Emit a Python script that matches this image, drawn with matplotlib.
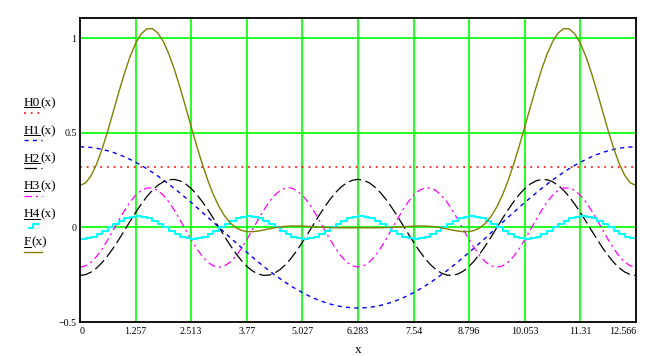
import numpy as np
import matplotlib
matplotlib.use("Agg")
from matplotlib import pyplot as plt
from matplotlib.lines import Line2D

# cosine terms: Hk(x) = amp * cos(freq * x), F = sum of them
names = ["H0", "H1", "H2", "H3", "H4"]
freqs = [0.0, 0.5, 1.5, 2.0, 2.5]
amps = [0.32, 0.426, -0.254, -0.21, -0.06]
n_samples = 101
x_max = 4 * np.pi

xtick_labels = ["0", "1.257", "2.513", "3.77", "5.027", "6.283",
                "7.54", "8.796", "10.053", "11.31", "12.566"]
ytick_values = [-0.5, 0, 0.5, 1]
ytick_labels = ["\u22120.5", "0", "0.5", "1"]

W, H = 655, 356
plt.rcParams["font.family"] = ["Liberation Serif", "DejaVu Serif"]
fig = plt.figure(figsize=(W / 100, H / 100), dpi=100)
ax = fig.add_axes([80 / W, 1 - 322 / H, 556 / W, 304 / H])

x = np.linspace(0, x_max, n_samples)
curves = [a * np.cos(f * x) for a, f in zip(amps, freqs)]
F = np.sum(curves, axis=0)

green = "#00ff00"
xticks = np.linspace(0, x_max, len(xtick_labels))
for xv in xticks[1:-1]:
    ax.axvline(xv, color=green, lw=1.2, zorder=1)
for yv in [0, 0.5, 1]:
    ax.axhline(yv, color=green, lw=1.2, zorder=1)

styles = [
    dict(color="#ff0000", lw=1.1, linestyle=(0, (1.2, 3.2))),
    dict(color="#0000ff", lw=1.0, linestyle=(0, (3, 3))),
    dict(color="#000000", lw=0.9, linestyle=(0, (10, 3.5))),
    dict(color="#ff00ff", lw=0.9, linestyle=(0, (6, 3, 1.8, 3))),
    dict(color="#00ffff", lw=1.5, linestyle="-", drawstyle="steps-post"),
]
f_style = dict(color="#808000", lw=1.0, linestyle="-")

for y, st in zip(curves, styles):
    ax.plot(x, y, zorder=3, **st)
ax.plot(x, F, zorder=3, **f_style)

ax.set_xlim(0, x_max)
ax.set_ylim(-0.5, 1.107)
ax.set_xticks(xticks)
ax.set_xticklabels(xtick_labels, fontsize=7.2)
for i, lab in enumerate(ax.get_xticklabels()):
    if i == 0:
        lab.set_horizontalalignment("left")
    elif i == len(xtick_labels) - 1:
        lab.set_horizontalalignment("right")
ax.set_yticks(ytick_values)
ax.set_yticklabels(ytick_labels, fontsize=7.2)
ax.tick_params(length=0, pad=3.5, axis="x")
ax.tick_params(length=0, pad=2.5, axis="y")
for s in ax.spines.values():
    s.set_linewidth(1.3)
    s.set_zorder(4)
ax.set_xlabel("x", fontsize=9.5, labelpad=6)

# legend on the left, Mathcad style: label on top, trace sample underneath
renderer = fig.canvas.get_renderer()
labels = names + ["F"]
all_styles = styles + [f_style]
x0 = 24
for i, (name, st) in enumerate(zip(labels, all_styles)):
    base = 106 + i * 27.8
    t = fig.text(x0 / W, 1 - base / H, name, fontsize=9.5, va="baseline")
    bb = t.get_window_extent(renderer)
    fig.text(bb.x1 / W, 1 - base / H, "(x)", fontsize=9.5, va="baseline")
    fig.add_artist(Line2D([bb.x0 / W, bb.x1 / W], [1 - (base + 1.5) / H] * 2,
                          color="black", lw=0.7))
    sy = base + 6.5
    kw = {k: v for k, v in st.items() if k != "drawstyle"}
    if st.get("drawstyle"):
        xs = np.array([29, 33, 33, 38]) / W
        ys = 1 - np.array([sy + 4, sy + 4, sy, sy]) / H
        fig.add_artist(Line2D(xs, ys, **kw))
    else:
        fig.add_artist(Line2D([x0 / W, 42 / W], [1 - sy / H] * 2, **kw))

fig.savefig("out.png", dpi=100)
